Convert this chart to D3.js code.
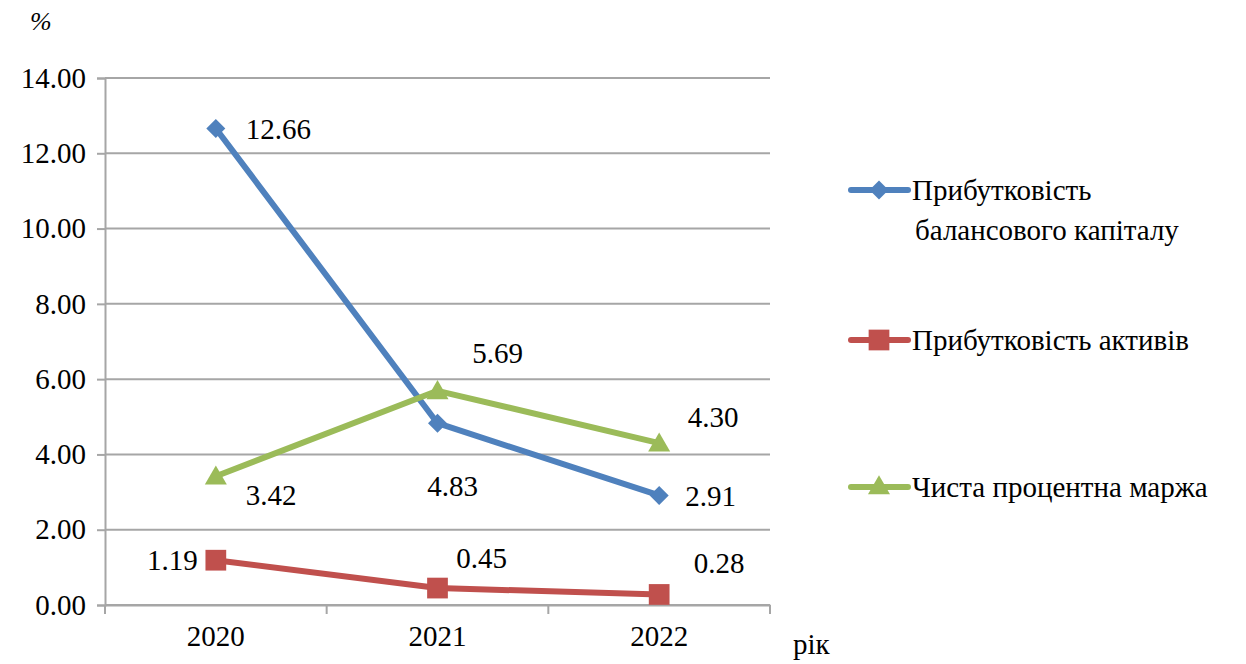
<!DOCTYPE html>
<html>
<head>
<meta charset="utf-8">
<script src="https://cdn.jsdelivr.net/npm/d3@7/dist/d3.min.js"></script>
</head>
<body style="margin:0;background:#fff">
<svg id="chart" width="1246" height="664"></svg>
<script>
// Years on the x axis
const years = ["2020", "2021", "2022"];
// Series values, %
const roe = [12.66, 4.83, 2.91];   // Прибутковість балансового капіталу
const roa = [1.19, 0.45, 0.28];    // Прибутковість активів
const nim = [3.42, 5.69, 4.30];    // Чиста процентна маржа
const seriesNames = ["Прибутковість балансового капіталу", "Прибутковість активів", "Чиста процентна маржа"];
const yTicks = [0, 2, 4, 6, 8, 10, 12, 14];

const FONT = '"Liberation Serif"';
const colors = ["#4F81BD", "#C0504D", "#9BBB59"];
const shapes = [d3.symbolDiamond2, d3.symbolSquare, d3.symbolTriangle];
const sizes = [230, 430, 210];
// label offsets (dx, dy from the point, text anchor) for each series / year
const labelOffsets = [
  [[30, 0, "start"], [15, 63, "middle"], [26, 0, "start"]],
  [[-18, 0, "end"], [44, -30, "middle"], [60, -32, "middle"]],
  [[30, 19, "start"], [60, -38, "middle"], [54, -26, "middle"]]
];

const svg = d3.select("#chart");
const margin = { left: 105, right: 476, top: 78, bottom: 59 };
const W = 1246, H = 664;
const x = d3.scaleBand().domain(years).range([margin.left, W - margin.right]);
const y = d3.scaleLinear().domain([0, 14]).range([H - margin.bottom, margin.top]);
const grid = "#A6A6A6";
const fontSize = 29;

function serif(sel, size) {
  return sel.style("font-family", FONT, "important")
    .style("font-size", (size || fontSize) + "px", "important")
    .attr("fill", "#000");
}

// horizontal grid lines
svg.append("g").selectAll("line").data(yTicks).join("line")
  .attr("x1", margin.left).attr("x2", W - margin.right)
  .attr("y1", d => y(d)).attr("y2", d => y(d))
  .attr("stroke", grid).attr("stroke-width", 2);

// y axis
const yAxis = svg.append("g").attr("transform", `translate(${margin.left},0)`)
  .call(d3.axisLeft(y).tickValues(yTicks).tickFormat(d3.format(".2f")).tickSize(8).tickPadding(8));
yAxis.select(".domain").attr("stroke", grid).attr("stroke-width", 2);
yAxis.selectAll(".tick line").attr("stroke", grid).attr("stroke-width", 2);
serif(yAxis.selectAll(".tick text")).attr("dx", -3);

// x axis
const xAxis = svg.append("g").attr("transform", `translate(0,${y(0)})`)
  .call(d3.axisBottom(x).tickSize(0).tickPadding(20));
xAxis.select(".domain").attr("stroke", grid).attr("stroke-width", 2);
serif(xAxis.selectAll(".tick text"));
// category boundary ticks
const bounds = years.map(d => x(d)).concat([x(years[years.length - 1]) + x.bandwidth()]);
svg.append("g").selectAll("line").data(bounds).join("line")
  .attr("x1", d => d).attr("x2", d => d)
  .attr("y1", y(0)).attr("y2", y(0) + 9)
  .attr("stroke", grid).attr("stroke-width", 2);

// axis titles
serif(svg.append("text").attr("x", 30).attr("y", 30), 26).style("font-style", "italic").text("%");
serif(svg.append("text").attr("x", 793).attr("y", 654)).text("рік");

const cx = d => x(d) + x.bandwidth() / 2;
const allSeries = [roe, roa, nim];

allSeries.forEach((vals, si) => {
  const pts = vals.map((v, i) => ({ year: years[i], v }));
  svg.append("path").datum(pts)
    .attr("fill", "none").attr("stroke", colors[si]).attr("stroke-width", 6)
    .attr("stroke-linejoin", "round")
    .attr("d", d3.line().x(d => cx(d.year)).y(d => y(d.v)));
  svg.append("g").selectAll("path").data(pts).join("path")
    .attr("d", d3.symbol().type(shapes[si]).size(sizes[si]))
    .attr("transform", d => `translate(${cx(d.year)},${y(d.v) + (si === 2 ? 2 : 0)})`)
    .attr("fill", colors[si]);
  serif(svg.append("g").selectAll("text").data(pts).join("text")
    .attr("x", (d, i) => cx(d.year) + labelOffsets[si][i][0])
    .attr("y", (d, i) => y(d.v) + labelOffsets[si][i][1])
    .attr("dy", "0.35em")
    .attr("text-anchor", (d, i) => labelOffsets[si][i][2]))
    .text(d => d.v.toFixed(2));
});

// legend
const legendRows = [
  { y: 190, lines: ["Прибутковість", "балансового капіталу"] },
  { y: 340, lines: ["Прибутковість активів"] },
  { y: 487, lines: ["Чиста процентна маржа"] }
];
legendRows.forEach((row, si) => {
  const g = svg.append("g");
  g.append("line").attr("x1", 851).attr("x2", 908).attr("y1", row.y).attr("y2", row.y)
    .attr("stroke", colors[si]).attr("stroke-width", 6).attr("stroke-linecap", "round");
  g.append("path").attr("d", d3.symbol().type(shapes[si]).size(sizes[si])())
    .attr("transform", `translate(879,${row.y + (si === 2 ? 1 : 0)})`).attr("fill", colors[si]);
  row.lines.forEach((ln, k) => {
    serif(g.append("text").attr("x", k === 0 ? 912 : 915).attr("y", row.y + k * 40).attr("dy", "0.35em")).text(ln);
  });
});
</script>
</body>
</html>
